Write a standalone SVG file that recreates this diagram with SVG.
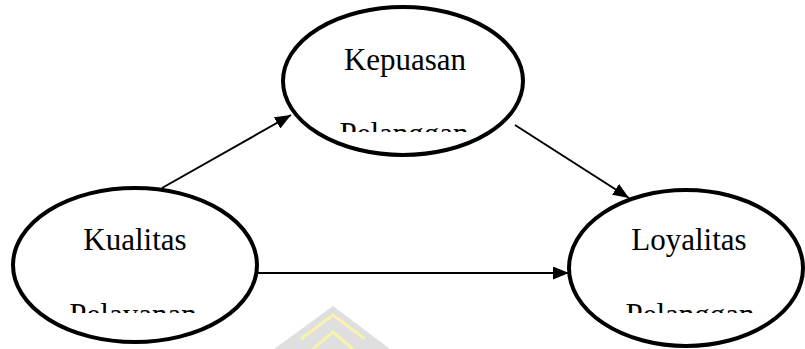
<svg xmlns="http://www.w3.org/2000/svg" width="805" height="349" viewBox="0 0 805 349">
  <style>
    .node ellipse { fill: #ffffff; stroke: #000000; stroke-width: 4; }
    .label { font-family: "Liberation Serif", "Times New Roman", serif; font-size: 31px; fill: #000000; text-anchor: middle; }
    .edge { stroke: #000000; stroke-width: 2; fill: none; marker-end: url(#arrow); }
  </style>
  <defs>
    <marker id="arrow" markerUnits="userSpaceOnUse" markerWidth="16" markerHeight="13" refX="16" refY="6.5" orient="auto">
      <path d="M0,0 L16,6.5 L0,13 z" fill="#000000"/>
    </marker>
    <clipPath id="clip-top"><rect x="283" y="20" width="240" height="112"/></clipPath>
    <clipPath id="clip-left"><rect x="13" y="200" width="244" height="113"/></clipPath>
    <clipPath id="clip-right"><rect x="568" y="200" width="236" height="113"/></clipPath>
  </defs>

  <!-- faint emblem in the background -->
  <g id="emblem" opacity="0.9">
    <polygon points="333,306 390,349 274,349" fill="#dcdcdc"/>
    <polyline points="301,339 333,315 365,339" fill="none" stroke="#f6f2a8" stroke-width="3"/>
    <polyline points="313,349 333,332 353,349" fill="none" stroke="#f6f2a8" stroke-width="3"/>
  </g>

  <!-- connectors -->
  <g id="connectors">
    <line class="edge" x1="162" y1="188" x2="291" y2="115"/>
    <line class="edge" x1="515" y1="125" x2="629" y2="198"/>
    <line class="edge" x1="258" y1="273" x2="569" y2="273"/>
  </g>

  <g id="kepuasan" class="node">
    <ellipse cx="403" cy="81" rx="120" ry="74"/>
    <text class="label" x="405" y="70">Kepuasan</text>
    <text class="label" x="404" y="144" clip-path="url(#clip-top)">Pelanggan</text>
  </g>

  <g id="kualitas" class="node">
    <ellipse cx="135" cy="265" rx="122" ry="77"/>
    <text class="label" x="135" y="250">Kualitas</text>
    <text class="label" x="133" y="325" clip-path="url(#clip-left)">Pelayanan</text>
  </g>

  <g id="loyalitas" class="node">
    <ellipse cx="686" cy="268" rx="117" ry="78"/>
    <text class="label" x="689" y="250">Loyalitas</text>
    <text class="label" x="690" y="325" clip-path="url(#clip-right)">Pelanggan</text>
  </g>
</svg>
